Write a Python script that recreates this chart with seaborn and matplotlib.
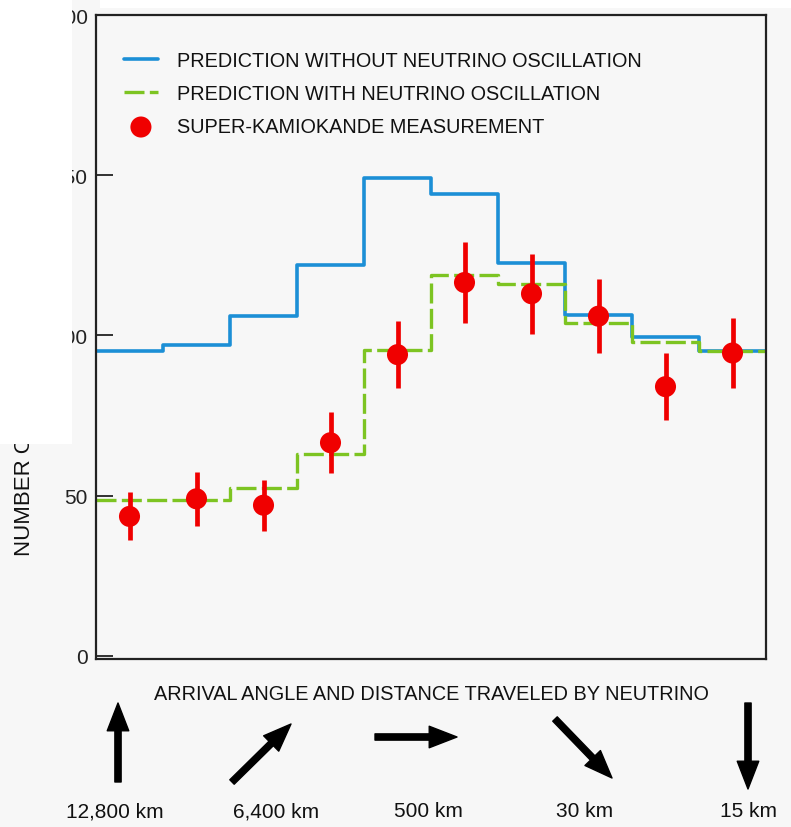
import numpy as np
import pandas as pd
import matplotlib
matplotlib.use("Agg")
import matplotlib.pyplot as plt
import seaborn as sns
from matplotlib.patches import Rectangle

# ten arrival-angle bins, upward-going (left) to downward-going (right)
bins = np.arange(10)
no_osc = [95, 97, 106, 122, 149, 144, 122.5, 106.5, 99.5, 95]
with_osc = [48.5, 48.5, 52.5, 63, 95.5, 119, 116, 104, 98, 95]
measured = [43.5, 49, 47, 66.5, 94, 116.5, 113, 106, 84, 94.5]
meas_err = [7.5, 8.5, 8, 9.5, 10.5, 12.5, 12.5, 11.5, 10.5, 11]
yticks = [0, 50, 100, 150, 200]
distances = ["12,800 km", "6,400 km", "500 km", "30 km", "15 km"]
legend_labels = ["PREDICTION WITHOUT NEUTRINO OSCILLATION",
                 "PREDICTION WITH NEUTRINO OSCILLATION",
                 "SUPER-KAMIOKANDE MEASUREMENT"]

sns.set_style("ticks")
plt.rcParams['font.family'] = ['Liberation Sans Narrow', 'Liberation Sans', 'DejaVu Sans']

bg = "#F7F7F7"
ink = "#111111"
fig = plt.figure(figsize=(7.91, 8.28), dpi=100, facecolor=bg)
ax = fig.add_axes([96/791, 1-660/828, 670/791, 644/828])
ax.set_facecolor(bg)

# step outlines go edge to edge, so repeat the last bin value at the right edge
edges = np.arange(11)
df = pd.DataFrame({"edge": edges,
                   "no_osc": no_osc + no_osc[-1:],
                   "with_osc": with_osc + with_osc[-1:]})

sns.lineplot(data=df, x="edge", y="no_osc", drawstyle="steps-post", color="#1C8FD6",
             lw=2.6, label=legend_labels[0], ax=ax)
sns.lineplot(data=df, x="edge", y="with_osc", drawstyle="steps-post", color="#7DC422",
             lw=2.4, dashes=False, label=legend_labels[1], ax=ax)
ax.lines[-1].set_dashes((6, 1.6))

centers = bins + 0.5
ax.errorbar(centers, measured, yerr=meas_err, fmt="none", ecolor="#F00000",
            elinewidth=3.4, capsize=0, zorder=3)
sns.scatterplot(x=centers, y=measured, s=230, color="#F00000", edgecolor="none",
                label=legend_labels[2], zorder=4, ax=ax)

ax.set_xlim(0, 10)
ax.set_ylim(-1, 199)
ax.set_yticks(yticks)
ax.set_xticks([])
ax.tick_params(axis="y", direction="in", length=12, width=1.3, pad=6, labelsize=15,
               colors="#222222")
for s in ax.spines.values():
    s.set_color("#222222")
    s.set_linewidth(1.6)
ax.set_ylabel("")
ax.set_xlabel("ARRIVAL ANGLE AND DISTANCE TRAVELED BY NEUTRINO", fontsize=14.3,
              labelpad=18, color=ink)

leg = ax.legend(loc="upper left", bbox_to_anchor=(0.03, 0.957), frameon=False,
                fontsize=14.3, handlelength=1.7, handletextpad=0.95, labelspacing=0.72,
                borderaxespad=0)
for t in leg.get_texts():
    t.set_color(ink)

fig.text(25/791, 1-556/828, "NUMBER OF EVENTS", rotation=90, ha="center", va="bottom",
         fontsize=16, color=ink)

# arrival direction arrows under the axis (tail, tip) in figure pixels
arrow_px = [((118, 783), (118, 704)),
            ((232, 783), (291, 725)),
            ((375, 738), (457, 738)),
            ((555, 720), (612, 779)),
            ((748, 704), (748, 790))]
label_x = [115, 276, 428, 585, 748]
for (tail, tip), lx, name in zip(arrow_px, label_x, distances):
    ax.annotate("", xy=(tip[0]/791, 1-tip[1]/828), xycoords="figure fraction",
                xytext=(tail[0]/791, 1-tail[1]/828), textcoords="figure fraction",
                arrowprops=dict(arrowstyle="simple,head_width=1.55,head_length=2.0,tail_width=0.45",
                                mutation_scale=10, color="black", shrinkA=0, shrinkB=0),
                annotation_clip=False)
    fig.text(lx/791, 1-812/828, name, ha="center", va="center", fontsize=15,
             color=ink)

# white patch over the upper left, as in the scanned figure
fig.patches.append(Rectangle((0, 1-445/828), 72/791, 445/828, transform=fig.transFigure,
                             facecolor="white", edgecolor="none", zorder=10))
fig.patches.append(Rectangle((100/791, 1-9/828), 691/791, 9/828, transform=fig.transFigure,
                             facecolor="white", edgecolor="none", zorder=10))

fig.savefig("out.png", dpi=100, facecolor=bg)
